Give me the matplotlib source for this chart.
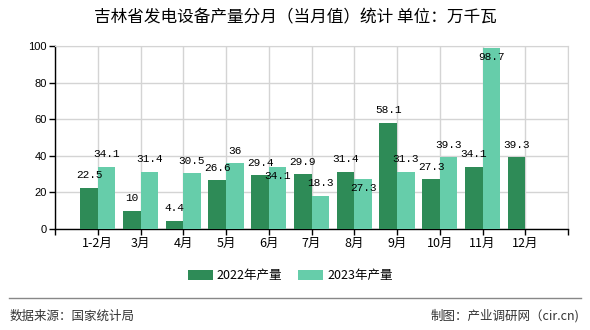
import matplotlib
matplotlib.use("Agg")
import matplotlib.pyplot as plt
import numpy as np

CJK = ['Noto Sans CJK SC', 'DejaVu Sans']
NUM = ['Liberation Sans', 'Noto Sans CJK SC']

title = "吉林省发电设备产量分月（当月值）统计 单位：万千瓦"
categories = ["1-2月", "3月", "4月", "5月", "6月", "7月", "8月", "9月", "10月", "11月", "12月"]
series_2022 = [22.5, 10, 4.4, 26.6, 29.4, 29.9, 31.4, 58.1, 27.3, 34.1, 39.3]
series_2023 = [34.1, 31.4, 30.5, 36, 34.1, 18.3, 27.3, 31.3, 39.3, 98.7, None]
series_names = ["2022年产量", "2023年产量"]
yticks = [0, 20, 40, 60, 80, 100]
source_text = "数据来源：国家统计局"
credit_text = "制图：产业调研网（cir.cn)"

c_dark = "#2E8B57"
c_light = "#66CDAA"

fig = plt.figure(figsize=(5.9, 3.3), dpi=100)
ax = fig.add_axes([55/590, 1-229/330, (568-55)/590, (229-46)/330])

n = len(categories)
x = np.arange(n)
w = 0.41
v22 = np.array(series_2022, dtype=float)
v23 = np.array([np.nan if v is None else v for v in series_2023], dtype=float)

ax.bar(x - w/2, v22, width=w, color=c_dark, zorder=3, label=series_names[0])
ax.bar(x + w/2, np.nan_to_num(v23), width=w, color=c_light, zorder=3, label=series_names[1])

ax.set_xlim(-1, n)
ax.set_ylim(0, 100)
ax.set_yticks(yticks)
ax.set_yticklabels([str(t) for t in yticks], family=NUM, fontsize=8)
ax.set_xticks(np.arange(-1, n + 1))
ax.set_xticklabels([""] + categories + [""], family=CJK, fontsize=9)
ax.tick_params(axis='both', direction='out', length=4, width=1, color='black', pad=2)
ax.grid(True, color='#d4d4d4', lw=1, zorder=0)
ax.set_axisbelow(True)
for s in ['top', 'right']:
    ax.spines[s].set_color('#d4d4d4')
for s in ['left', 'bottom']:
    ax.spines[s].set_color('black')
    ax.spines[s].set_linewidth(1)

lab_kw = dict(family=['Liberation Mono', 'DejaVu Sans Mono'], fontsize=8, ha='center', va='center',
              color='black', zorder=5)

def fmt(v):
    return ("%g" % v)

for i in range(n):
    a = v22[i]
    b = v23[i]
    ax.annotate(fmt(a), (x[i] - w/2, a), xytext=(0, 9), textcoords='offset points', **lab_kw)
    if not np.isnan(b):
        below = abs(b - a) < 6 or b > 92
        off = -6.5 if below else 9
        ax.annotate(fmt(b), (x[i] + w/2, b), xytext=(0, off), textcoords='offset points', **lab_kw)

fig.text(0.5, 1 - 18/330, title, family=CJK, fontsize=12, ha='center', va='center')

leg = fig.legend(loc='center', bbox_to_anchor=(0.492, 1 - 276/330), ncol=2, frameon=False,
                 prop={'family': CJK, 'size': 9}, handlelength=2.0, handleheight=0.9,
                 columnspacing=1.3, handletextpad=0.3)

fig.add_artist(plt.Line2D([9/590, 581/590], [1 - 298/330, 1 - 298/330], color='#888888', lw=1))
fig.text(10/590, 1 - 316/330, source_text, family=CJK, fontsize=9, ha='left', va='center', color='#333333')
fig.text(579/590, 1 - 316/330, credit_text, family=CJK, fontsize=9, ha='right', va='center', color='#333333')

fig.savefig("out.png", dpi=100)
